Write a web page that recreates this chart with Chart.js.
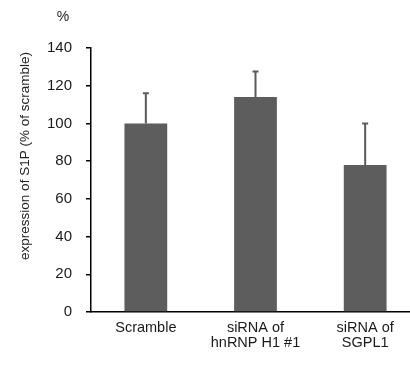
<!DOCTYPE html>
<html>
<head>
<meta charset="utf-8">
<script src="https://cdn.jsdelivr.net/npm/chart.js@4"></script>
<style>
html,body{margin:0;padding:0;background:#fff;overflow:hidden;}
#wrap{width:420px;height:367px;position:relative;}
</style>
</head>
<body>
<div id="wrap"><canvas id="c"></canvas></div>
<script>
const categories = [["Scramble"], ["siRNA of", "hnRNP H1 #1"], ["siRNA of", "SGPL1"]];
const values = [100, 114, 78];
const errors = [16, 13.5, 22];
const yAxisTitle = "expression of S1P (% of scramble)";
const unitLabel = "%";

const FONT = "'Liberation Sans', Arial, sans-serif";

const errorBars = {
  id: 'errorBars',
  afterDatasetsDraw(chart) {
    const ctx = chart.ctx;
    const meta = chart.getDatasetMeta(0);
    const y = chart.scales.y;
    ctx.save();
    ctx.strokeStyle = '#5a5a5a';
    ctx.lineWidth = 2;
    meta.data.forEach((bar, i) => {
      const x = bar.x;
      const top = y.getPixelForValue(values[i] + errors[i]);
      const base = y.getPixelForValue(values[i]);
      ctx.beginPath();
      ctx.moveTo(x, base);
      ctx.lineTo(x, top);
      ctx.moveTo(x - 3, top);
      ctx.lineTo(x + 3, top);
      ctx.stroke();
    });
    ctx.restore();
  }
};

const texts = {
  id: 'texts',
  afterDraw(chart) {
    const ctx = chart.ctx;
    ctx.save();
    ctx.fillStyle = '#222';
    ctx.font = "14px " + FONT;
    ctx.textAlign = 'center';
    ctx.textBaseline = 'middle';
    ctx.fillText(unitLabel, 63, 17);
    ctx.translate(25, 156);
    ctx.rotate(-Math.PI / 2);
    ctx.font = "13.5px " + FONT;
    ctx.fillText(yAxisTitle, 0, 0);
    ctx.restore();
  }
};

new Chart(document.getElementById('c'), {
  type: 'bar',
  data: {
    labels: categories,
    datasets: [{
      data: values,
      backgroundColor: '#5d5d5d',
      borderWidth: 0,
      barPercentage: 0.39,
      categoryPercentage: 1.0
    }]
  },
  options: {
    responsive: true,
    maintainAspectRatio: false,
    animation: false,
    devicePixelRatio: 1,
    layout: { padding: { top: 48, right: 0, left: 0, bottom: 0 } },
    plugins: { legend: { display: false }, tooltip: { enabled: false } },
    scales: {
      x: {
        grid: { display: false },
        border: { display: true, color: '#000', width: 1.5 },
        ticks: { color: '#1a1a1a', font: { family: FONT, size: 14.5, lineHeight: 1.0 }, padding: 1, maxRotation: 0, autoSkip: false },
        afterFit(scale) { scale.height = 55; }
      },
      y: {
        min: 0, max: 140,
        grid: { display: true, drawOnChartArea: false, drawTicks: true, tickLength: 5, color: '#000', lineWidth: 1.5 },
        border: { display: true, color: '#000', width: 1.5 },
        ticks: { stepSize: 20, color: '#1a1a1a', font: { family: FONT, size: 15 }, padding: 14 },
        afterFit(scale) { scale.width = 91; }
      }
    }
  },
  plugins: [errorBars, texts]
});
</script>
</body>
</html>
